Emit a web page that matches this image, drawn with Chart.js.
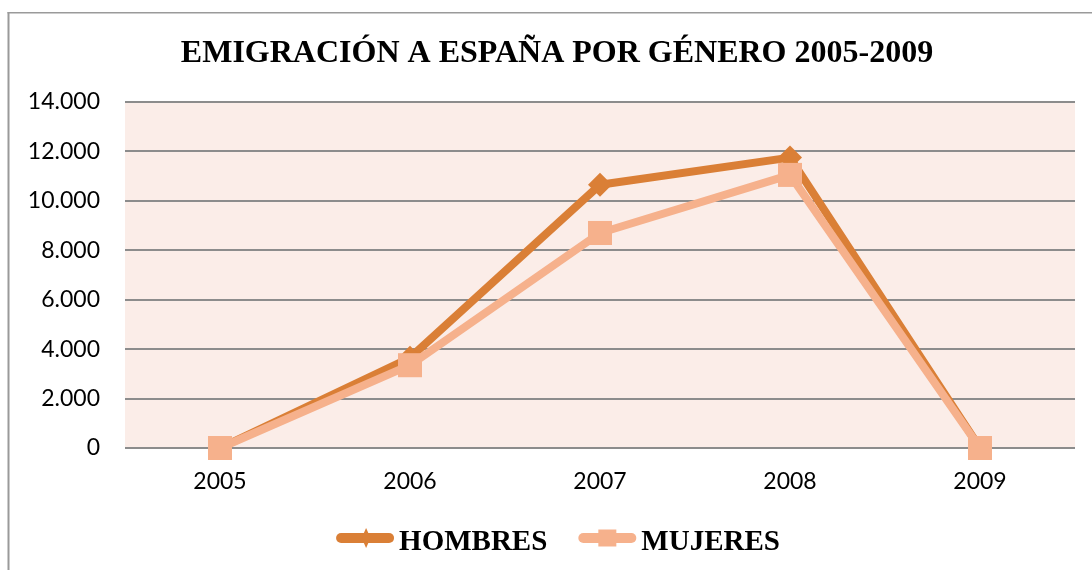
<!DOCTYPE html>
<html>
<head>
<meta charset="utf-8">
<script src="https://cdn.jsdelivr.net/npm/chart.js@4"></script>
<style>
  html, body { margin: 0; padding: 0; background: #ffffff; }
  #wrap { position: absolute; left: 0; top: 0; width: 1092px; height: 570px; }
</style>
</head>
<body>
<div id="wrap"><canvas id="c" width="1092" height="570"></canvas></div>
<script>
const chartTitle = "EMIGRACIÓN A ESPAÑA POR GÉNERO 2005-2009";
const years = ["2005", "2006", "2007", "2008", "2009"];
const hombres = [0, 3650, 10650, 11750, 0];
const mujeres = [0, 3350, 8700, 11050, 0];
const seriesNames = ["HOMBRES", "MUJERES"];
const yMin = 0, yMax = 14000, yStep = 2000;

const colHombres = "#DA7F36";
const colMujeres = "#F6B18C";

function fmt(v) {
  return String(Math.round(v)).replace(/\B(?=(\d{3})+(?!\d))/g, ".");
}

const decor = {
  id: "decor",
  beforeDraw(chart) {
    const ctx = chart.ctx, a = chart.chartArea;
    ctx.save();
    ctx.fillStyle = "#ffffff";
    ctx.fillRect(0, 0, chart.width, chart.height);
    // outer frame
    ctx.fillStyle = "#9a9a9a";
    ctx.fillRect(7.5, 12, 2, chart.height - 12);
    ctx.fillRect(7.5, 12, chart.width - 7.5, 1.5);
    // plot background
    ctx.fillStyle = "#FBEDE8";
    ctx.fillRect(a.left, a.top, a.right - a.left, a.bottom - a.top);
    ctx.restore();
  },
  afterDraw(chart) {
    const ctx = chart.ctx;
    ctx.save();
    // title
    ctx.fillStyle = "#000000";
    ctx.font = "bold 32px 'Liberation Serif', 'Times New Roman', serif";
    ctx.textAlign = "center";
    ctx.textBaseline = "alphabetic";
    ctx.fillText(chartTitle, 557, 62);
    // legend
    ctx.font = "bold 29px 'Liberation Serif', 'Times New Roman', serif";
    ctx.textAlign = "left";
    const ds = chart.data.datasets;
    const lineLen = 58, textGap = 5, itemGap = 31;
    const widths = ds.map(d => lineLen + textGap + ctx.measureText(d.label).width);
    const total = widths.reduce((s, w) => s + w, 0) + itemGap * (ds.length - 1);
    let x = 558 - total / 2;
    const yLine = 538, yText = 550;
    ds.forEach((d, i) => {
      ctx.strokeStyle = d.borderColor;
      ctx.lineWidth = 10;
      ctx.lineCap = "round";
      ctx.beginPath();
      ctx.moveTo(x + 5, yLine);
      ctx.lineTo(x + lineLen - 5, yLine);
      ctx.stroke();
      const cx = x + lineLen / 2 + (i === 0 ? 1 : 0);
      ctx.fillStyle = d.borderColor;
      ctx.beginPath();
      if (d.pointStyle === "rectRot") {
        ctx.moveTo(cx, yLine - 10);
        ctx.lineTo(cx + 4.5, yLine);
        ctx.lineTo(cx, yLine + 10);
        ctx.lineTo(cx - 4.5, yLine);
        ctx.closePath();
      } else {
        ctx.rect(cx - 9, yLine - 8.5, 18, 17);
      }
      ctx.fill();
      ctx.fillStyle = "#000000";
      ctx.fillText(d.label, x + lineLen + textGap, yText);
      x += widths[i] + itemGap;
    });
    ctx.restore();
  }
};

new Chart(document.getElementById("c"), {
  type: "line",
  data: {
    labels: years,
    datasets: [
      {
        label: seriesNames[0],
        data: hombres,
        borderColor: colHombres,
        backgroundColor: colHombres,
        borderWidth: 8,
        borderJoinStyle: "round",
        tension: 0,
        pointStyle: "rectRot",
        pointRadius: 12,
        pointHoverRadius: 12,
        pointBackgroundColor: colHombres,
        pointBorderColor: colHombres,
        pointBorderWidth: 0,
        clip: false,
        order: 1
      },
      {
        label: seriesNames[1],
        data: mujeres,
        borderColor: colMujeres,
        backgroundColor: colMujeres,
        borderWidth: 8,
        borderJoinStyle: "round",
        tension: 0,
        pointStyle: "rect",
        pointRadius: 17,
        pointHoverRadius: 17,
        pointBackgroundColor: colMujeres,
        pointBorderColor: colMujeres,
        pointBorderWidth: 0,
        clip: false,
        order: 0
      }
    ]
  },
  options: {
    responsive: false,
    animation: false,
    events: [],
    layout: { padding: { left: 0, right: 17, top: 102, bottom: 72 } },
    plugins: {
      legend: { display: false },
      title: { display: false },
      tooltip: { enabled: false }
    },
    scales: {
      x: {
        offset: true,
        grid: { display: false, drawTicks: false },
        border: { display: false },
        ticks: {
          color: "#000000",
          font: { family: "Lato, 'Open Sans', sans-serif", size: 23 },
          padding: 20,
          maxRotation: 0
        },
        afterFit(s) { s.height = 50; }
      },
      y: {
        min: yMin,
        max: yMax,
        grid: { color: "#8c8c8c", lineWidth: 2, drawTicks: false },
        border: { display: false },
        ticks: {
          stepSize: yStep,
          color: "#000000",
          font: { family: "Lato, 'Open Sans', sans-serif", size: 23 },
          padding: 25,
          callback: v => fmt(v)
        },
        afterFit(s) { s.width = 125; }
      }
    }
  },
  plugins: [decor]
});
</script>
</body>
</html>
